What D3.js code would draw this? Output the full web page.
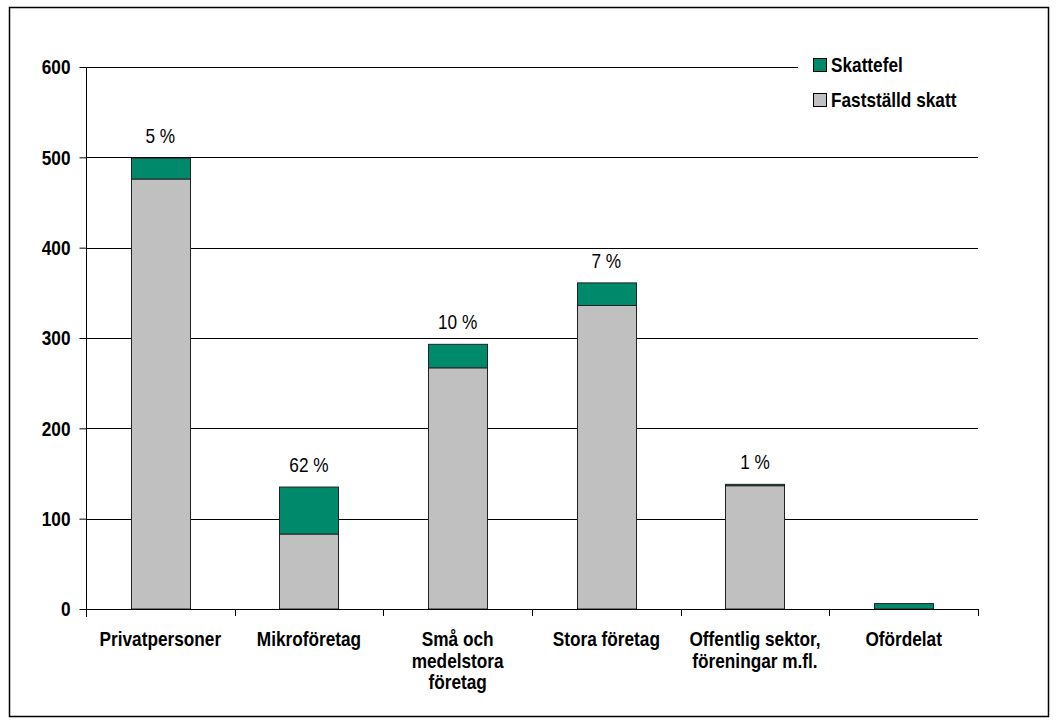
<!DOCTYPE html>
<html>
<head>
<meta charset="utf-8">
<script src="https://cdn.jsdelivr.net/npm/d3@7"></script>
<style>
  body { margin: 0; background: #fff; }
  svg { display: block; font-family: "Liberation Sans", Arial, sans-serif; }
</style>
</head>
<body>
<svg width="1057" height="725"></svg>
<script>
const categories = [
  ["Privatpersoner"],
  ["Mikroföretag"],
  ["Små och", "medelstora", "företag"],
  ["Stora företag"],
  ["Offentlig sektor,", "föreningar m.fl."],
  ["Ofördelat"]
];
const faststalld = [476, 83, 267, 336, 136.5, 0];
const skattefel = [23, 52, 26, 25, 1.5, 6];
const pctLabels = ["5 %", "62 %", "10 %", "7 %", "1 %", ""];
const yTicks = [0, 100, 200, 300, 400, 500, 600];

const green = "#008A6C";
const grey = "#C0C0C0";

const svg = d3.select("svg");

// the original uses a narrow font, squeeze the glyphs to fake it
function narrow(sel, k = 0.82) {
  sel.each(function () {
    const len = this.getComputedTextLength();
    d3.select(this).attr("textLength", len * k).attr("lengthAdjust", "spacingAndGlyphs");
  });
}

// outer frame
svg.append("rect")
  .attr("x", 9.5).attr("y", 7.5)
  .attr("width", 1039).attr("height", 709)
  .attr("fill", "none").attr("stroke", "#000").attr("stroke-width", 1.5);

const plotLeft = 86, plotRight = 978, plotTop = 67, plotBottom = 609;

const x = d3.scaleBand()
  .domain(d3.range(categories.length))
  .range([plotLeft, plotRight])
  .paddingInner(0.6).paddingOuter(0.3);

const y = d3.scaleLinear().domain([0, 600]).range([plotBottom, plotTop]);

// gridlines
svg.append("g")
  .selectAll("line")
  .data(yTicks.filter(d => d > 0))
  .enter().append("line")
  .attr("x1", plotLeft).attr("x2", plotRight)
  .attr("y1", d => Math.round(y(d)) + 0.5).attr("y2", d => Math.round(y(d)) + 0.5)
  .attr("stroke", "#000").attr("stroke-width", 1);

// y axis
const yAxis = svg.append("g")
  .attr("transform", `translate(${plotLeft + 0.5},0)`)
  .call(d3.axisLeft(y).tickValues(yTicks).tickSize(7).tickPadding(9));
yAxis.select(".domain").attr("d", `M0,${plotTop}V${plotBottom + 8}`).attr("stroke", "#000");
yAxis.selectAll("text").attr("font-size", 21).attr("font-weight", "bold").attr("fill", "#000")
  .attr("font-family", "Liberation Sans, Arial, sans-serif")
  .call(narrow);

// bars
const bars = svg.append("g");
categories.forEach((c, i) => {
  const bx = Math.round(x(i)) + 0.5;
  const bw = Math.round(x.bandwidth());
  if (faststalld[i] > 0) {
    bars.append("rect")
      .attr("x", bx).attr("width", bw)
      .attr("y", y(faststalld[i])).attr("height", y(0) - y(faststalld[i]))
      .attr("fill", grey).attr("stroke", "#222").attr("stroke-width", 1);
  }
  bars.append("rect")
    .attr("x", bx).attr("width", bw)
    .attr("y", y(faststalld[i] + skattefel[i])).attr("height", y(faststalld[i]) - y(faststalld[i] + skattefel[i]))
    .attr("fill", green).attr("stroke", "#222").attr("stroke-width", 1);
  if (pctLabels[i]) {
    svg.append("text")
      .attr("x", x(i) + x.bandwidth() / 2)
      .attr("y", y(faststalld[i] + skattefel[i]) - 15)
      .attr("text-anchor", "middle")
      .attr("font-size", 21)
      .text(pctLabels[i])
      .call(narrow);
  }
});

// x axis
const step = (plotRight - plotLeft) / categories.length;
const xAxis = svg.append("g");
xAxis.append("line")
  .attr("x1", plotLeft).attr("x2", plotRight)
  .attr("y1", plotBottom + 0.5).attr("y2", plotBottom + 0.5)
  .attr("stroke", "#000");
d3.range(1, categories.length + 1).forEach(k => {
  xAxis.append("line")
    .attr("x1", Math.round(plotLeft + k * step) + 0.5).attr("x2", Math.round(plotLeft + k * step) + 0.5)
    .attr("y1", plotBottom).attr("y2", plotBottom + 7)
    .attr("stroke", "#000");
});
categories.forEach((lines, i) => {
  lines.forEach((ln, j) => {
    xAxis.append("text")
      .attr("x", x(i) + x.bandwidth() / 2)
      .attr("y", 646 + j * 21.5)
      .attr("text-anchor", "middle")
      .attr("font-size", 21).attr("font-weight", "bold")
      .text(ln)
      .call(narrow);
  });
});

// legend
const legend = svg.append("g");
legend.append("rect").attr("x", 798).attr("y", 48).attr("width", 185).attr("height", 66).attr("fill", "#fff");
const legendItems = [["Skattefel", green, 58], ["Fastställd skatt", grey, 93]];
legendItems.forEach(([name, col, ly]) => {
  legend.append("rect").attr("x", 813.5).attr("y", ly + 0.5).attr("width", 13).attr("height", 13)
    .attr("fill", col).attr("stroke", "#000");
  legend.append("text").attr("x", 831).attr("y", ly + 14).attr("font-size", 21).attr("font-weight", "bold")
    .text(name)
    .call(narrow);
});
</script>
</body>
</html>
